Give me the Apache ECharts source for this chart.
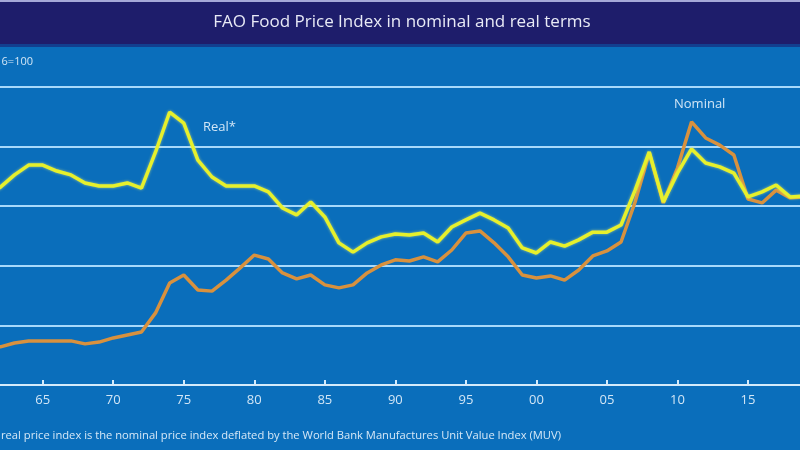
<!DOCTYPE html>
<html>
<head>
<meta charset="utf-8">
<script src="https://cdn.jsdelivr.net/npm/echarts@6/dist/echarts.min.js"></script>
<style>
html,body{margin:0;padding:0;background:#0a6ebb;overflow:hidden;}
#wrap{position:relative;width:800px;height:450px;overflow:hidden;}
#c{position:absolute;left:-28px;top:0;width:847px;height:450px;}
</style>
</head>
<body>
<div id="wrap"><div id="c"></div></div>
<script>
var years = [];
for (var y = 1961; y <= 2019; y++) years.push(y);

var realIndex = [103.8,106.4,110.5,113.8,113.8,111.8,110.5,107.8,106.8,106.8,
  107.8,106.1,118.2,131.6,127.9,115.5,109.8,106.8,106.8,106.8,
  104.8,99.4,97.1,101.4,96.4,87.7,84.6,87.7,89.7,90.7,
  90.3,91.0,88.0,93.0,95.4,97.7,95.4,92.7,86.0,84.3,
  88.0,86.6,88.7,91.3,91.3,93.7,105.4,118.2,101.4,111.1,
  119.2,114.5,113.2,111.1,103.1,104.8,107.1,103.1,103.4];

var nominalIndex = [52.4,52.8,54.1,54.8,54.8,54.8,54.8,53.8,54.4,55.8,
  56.8,57.8,64.2,74.2,76.9,71.9,71.5,75.2,79.3,83.6,
  82.3,77.6,75.6,76.9,73.6,72.6,73.6,77.6,80.3,82.0,
  81.6,83.0,81.3,85.3,91.0,91.7,87.7,83.0,76.9,75.9,
  76.6,75.2,78.6,83.3,85.0,88.0,101.4,117.9,101.1,112.8,
  128.3,122.9,120.5,117.2,102.4,101.1,105.4,102.8,103.1];

var titleText = 'FAO Food Price Index in nominal and real terms';
var footText = 'real price index is the nominal price index deflated by the World Bank Manufactures Unit Value Index (MUV)';

function pairs(vals) { return years.map(function (yr, i) { return [yr, vals[i]]; }); }

var OFF = 28; // chart canvas is shifted left by this many pixels
var chart = echarts.init(document.getElementById('c'), null, {renderer: 'canvas'});
chart.setOption({
  backgroundColor: '#0a6ebb',
  animation: false,
  grid: {left: 0.2, right: 0.5, top: 87, bottom: 65, containLabel: false, outerBoundsMode: 'none'},
  xAxis: {
    type: 'value', min: 1960, max: 2020, interval: 5,
    axisLine: {lineStyle: {color: '#d4ebfb', width: 2}},
    axisTick: {inside: true, length: 5, lineStyle: {color: '#d4ebfb', width: 2}},
    axisLabel: {
      color: '#d2e6f6', fontSize: 13, fontFamily: 'Open Sans', margin: 9,
      formatter: function (v) { var s = String(v % 100); return s.length < 2 ? '0' + s : s; }
    },
    splitLine: {show: false}
  },
  yAxis: {
    type: 'value', min: 40, max: 140, interval: 20,
    axisLine: {show: false}, axisTick: {show: false}, axisLabel: {show: false},
    splitLine: {lineStyle: {color: '#a7d9fb', width: 2}}
  },
  series: [
    {name: 'Nominal', type: 'line', data: pairs(nominalIndex), symbol: 'none',
      lineStyle: {color: '#d8913e', width: 3.5}, z: 2},
    {name: 'Real*', type: 'line', data: pairs(realIndex), symbol: 'none',
      lineStyle: {color: '#e6f02c', width: 3.5, shadowColor: 'rgba(240,250,120,0.6)', shadowBlur: 3}, z: 3}
  ],
  graphic: [
    {type: 'rect', shape: {x: 0, y: 0, width: 847, height: 46}, style: {fill: '#1e1d6b'}, z: 10},
    {type: 'rect', shape: {x: 0, y: 0, width: 847, height: 2}, style: {fill: '#a5a8d8'}, z: 11},
    {type: 'rect', shape: {x: 0, y: 44, width: 847, height: 3}, style: {fill: '#123f8f'}, z: 11},
    {type: 'text', x: 402 + OFF, y: 22, z: 12, style: {text: titleText, fill: '#e8eaf6', font: '17px "Open Sans"', textAlign: 'center', textVerticalAlign: 'middle'}},
    {type: 'text', x: 33 + OFF, y: 62, z: 12, style: {text: '2014-2016=100', fill: '#d2e6f6', font: '11px "Open Sans"', textAlign: 'right', textVerticalAlign: 'middle'}},
    {type: 'text', x: 203 + OFF, y: 127, z: 12, style: {text: 'Real*', fill: '#d2e6f6', font: '13px "Open Sans"', textAlign: 'left', textVerticalAlign: 'middle'}},
    {type: 'text', x: 674 + OFF, y: 104, z: 12, style: {text: 'Nominal', fill: '#d2e6f6', font: '13px "Open Sans"', textAlign: 'left', textVerticalAlign: 'middle'}},
    {type: 'text', x: 1 + OFF, y: 436, z: 12, style: {text: footText, fill: '#d6e8f7', font: '11.2px "Open Sans"', textAlign: 'left', textVerticalAlign: 'middle'}}
  ]
});
</script>
</body>
</html>
